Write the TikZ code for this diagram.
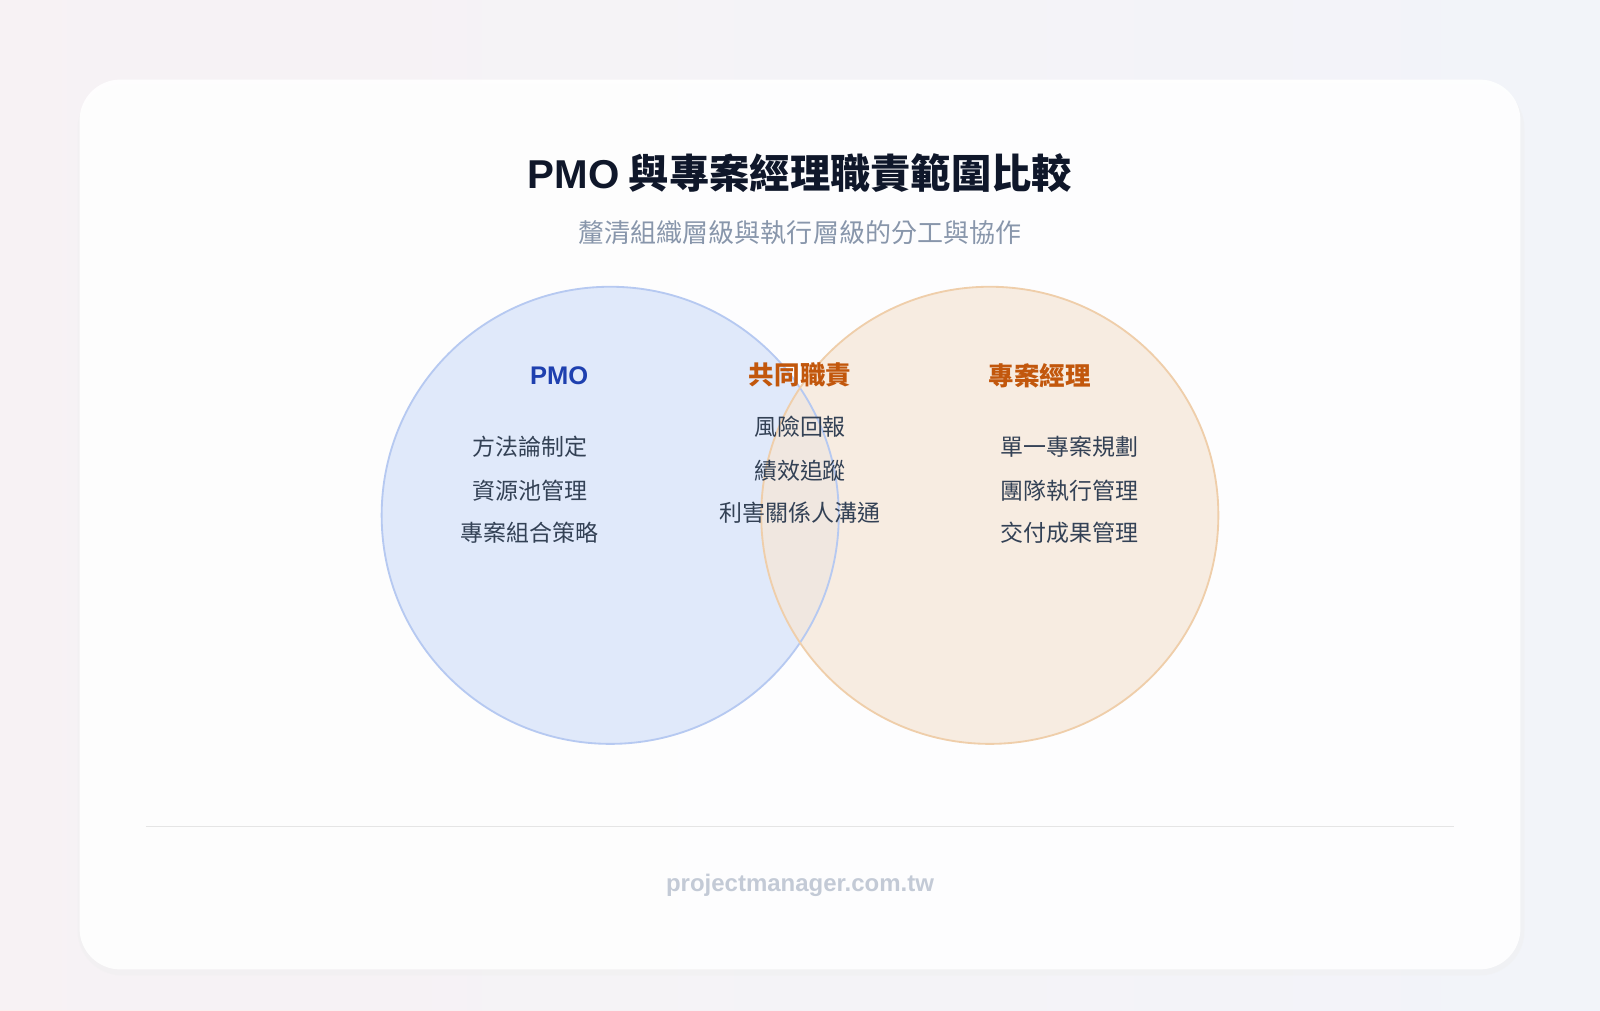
\documentclass[tikz,border=0pt]{standalone}
\usepackage{fontspec}
\setmainfont{Noto Sans CJK TC}
\newfontfamily\latinf{Liberation Sans}
\definecolor{bgc}{HTML}{F4F5F9}
\definecolor{pinkc}{HTML}{FCEEEE}
\definecolor{bluec}{HTML}{F0F3FB}
\definecolor{titlec}{HTML}{0F172A}
\definecolor{subc}{HTML}{8896AB}
\definecolor{pmoc}{HTML}{1E40AF}
\definecolor{orgc}{HTML}{C2570C}
\definecolor{itemc}{HTML}{334155}
\definecolor{footc}{HTML}{C3CAD6}
\definecolor{lfill}{HTML}{DCE6FA}
\definecolor{ldraw}{HTML}{B6C9F1}
\definecolor{rfill}{HTML}{F6E7D8}
\definecolor{rdraw}{HTML}{EFCEAA}
\tikzset{
 item/.style={text=itemc,font=\fontsize{22.5}{26}\selectfont,anchor=center},
 head/.style={font=\bfseries\fontsize{25}{28}\selectfont,anchor=center}
}
\begin{document}
\begin{tikzpicture}[x=1pt,y=-1pt]
\useasboundingbox (0,0) rectangle (1568,990);
\shade[top color=bgc,bottom color=bgc,left color=pinkc,right color=bluec] (0,0) rectangle (1568,990);
\fill[bgc,opacity=0.6] (0,0) rectangle (1568,990);
\fill[black!6,opacity=0.5,rounded corners=44] (76,82) rectangle (1494,956);
\fill[white,opacity=0.92,rounded corners=40] (78,78) rectangle (1490,950);
\node[font=\bfseries\fontsize{39.5}{44}\selectfont,text=titlec] (title) at (784,170) {{\latinf PMO} 與專案經理職責範圍比較};
\node[font=\fontsize{25.5}{30}\selectfont,text=subc] (sub) at (784,228) {釐清組織層級與執行層級的分工與協作};
\fill[lfill,opacity=0.85] (598,505) circle (224);
\fill[rfill,opacity=0.75] (970,505) circle (224);
\draw[ldraw,line width=1.8] (598,505) circle (224);
\draw[rdraw,line width=1.8] (970,505) circle (224);
\node[head,text=pmoc] (pmo) at (548,368) {\latinf PMO};
\node[head,text=orgc] (common) at (784,367) {共同職責};
\node[head,text=orgc] (pm) at (1019,368) {專案經理};
\node[item] (l1) at (519,438) {方法論制定};
\node[item] (l2) at (519,481) {資源池管理};
\node[item] (l3) at (519,522) {專案組合策略};
\node[item] (c1) at (784,418) {風險回報};
\node[item] (c2) at (784,461) {績效追蹤};
\node[item] (c3) at (784,502) {利害關係人溝通};
\node[item] (r1) at (1048,438) {單一專案規劃};
\node[item] (r2) at (1048,481) {團隊執行管理};
\node[item] (r3) at (1048,522) {交付成果管理};
\draw[black!10,line width=1] (143,810) -- (1425,810);
\node[font=\latinf\bfseries\fontsize{23.5}{27}\selectfont,text=footc] (foot) at (784,868) {projectmanager.com.tw};
\end{tikzpicture}
\end{document}
